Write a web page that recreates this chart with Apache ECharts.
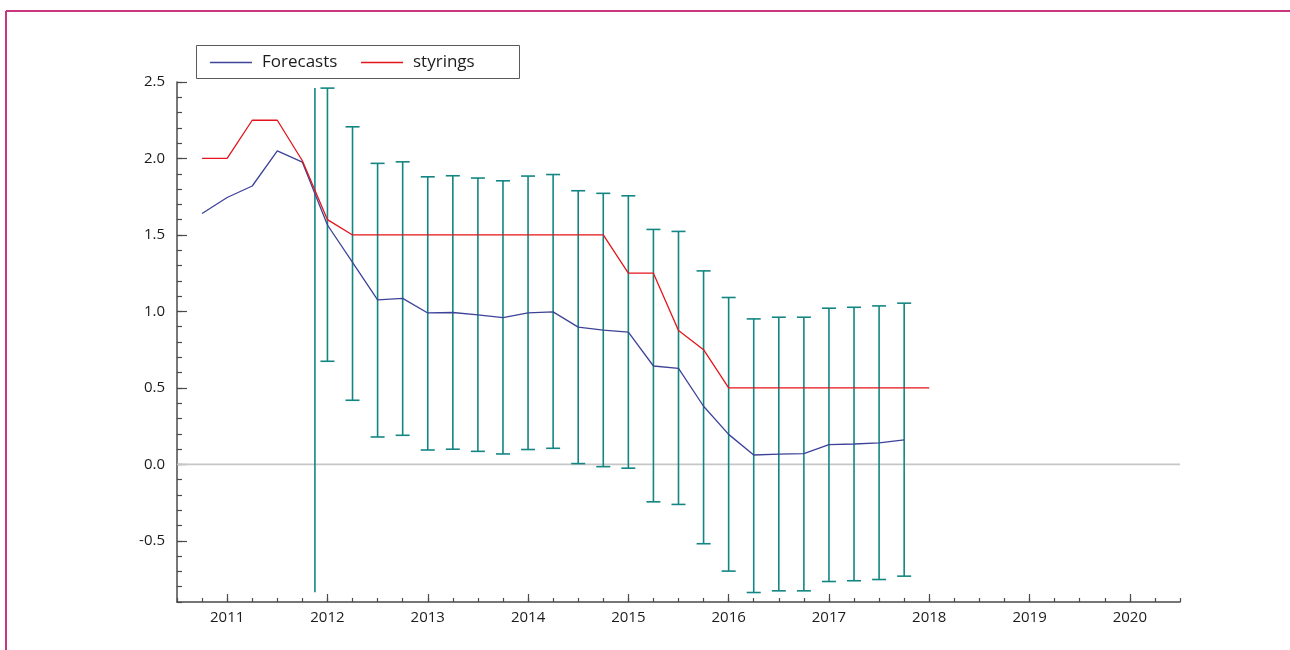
<!DOCTYPE html>
<html>
<head>
<meta charset="utf-8">
<script src="https://cdn.jsdelivr.net/npm/echarts@6/dist/echarts.min.js"></script>
<style>
  html, body { margin: 0; padding: 0; background: #ffffff; }
  #chart { width: 1290px; height: 650px; }
</style>
</head>
<body>
<div id="chart"></div>
<script>
// Quarterly forecast of the policy rate (x = year, decimal quarters)
const forecastYears = [2010.75, 2011.0, 2011.25, 2011.5, 2011.75, 2012.0, 2012.25, 2012.5, 2012.75,
  2013.0, 2013.25, 2013.5, 2013.75, 2014.0, 2014.25, 2014.5, 2014.75, 2015.0, 2015.25, 2015.5,
  2015.75, 2016.0, 2016.25, 2016.5, 2016.75, 2017.0, 2017.25, 2017.5, 2017.75];
const forecastValues = [1.64, 1.745, 1.82, 2.05, 1.976, 1.565, 1.32, 1.075, 1.085,
  0.99, 0.993, 0.977, 0.96, 0.99, 0.997, 0.897, 0.877, 0.864, 0.643, 0.628,
  0.38, 0.196, 0.061, 0.067, 0.07, 0.129, 0.133, 0.14, 0.16];

// Announced policy rate path ("styrings")
const rateYears = [2010.75, 2011.0, 2011.25, 2011.5, 2011.75, 2012.0, 2012.25, 2012.5, 2012.75,
  2013.0, 2013.25, 2013.5, 2013.75, 2014.0, 2014.25, 2014.5, 2014.75, 2015.0, 2015.25, 2015.5,
  2015.75, 2016.0, 2016.25, 2016.5, 2016.75, 2017.0, 2017.25, 2017.5, 2017.75, 2018.0];
const rateValues = [2.0, 2.0, 2.25, 2.25, 1.985, 1.6, 1.5, 1.5, 1.5,
  1.5, 1.5, 1.5, 1.5, 1.5, 1.5, 1.5, 1.5, 1.25, 1.25, 0.875,
  0.75, 0.5, 0.5, 0.5, 0.5, 0.5, 0.5, 0.5, 0.5, 0.5];

// Uncertainty bands around the forecast (lower / upper bound per quarter)
const bandYears = [2012.0, 2012.25, 2012.5, 2012.75, 2013.0, 2013.25, 2013.5, 2013.75,
  2014.0, 2014.25, 2014.5, 2014.75, 2015.0, 2015.25, 2015.5, 2015.75,
  2016.0, 2016.25, 2016.5, 2016.75, 2017.0, 2017.25, 2017.5, 2017.75];
const bandLow = [0.674, 0.419, 0.179, 0.19, 0.094, 0.099, 0.085, 0.068,
  0.097, 0.105, 0.005, -0.015, -0.025, -0.245, -0.262, -0.519,
  -0.698, -0.838, -0.827, -0.827, -0.766, -0.761, -0.753, -0.731];
const bandHigh = [2.46, 2.207, 1.968, 1.978, 1.88, 1.887, 1.872, 1.854,
  1.885, 1.895, 1.789, 1.772, 1.756, 1.536, 1.523, 1.265,
  1.091, 0.951, 0.962, 0.962, 1.021, 1.027, 1.036, 1.054];

// A single band drawn without caps: [year, low, high]
const openBand = [2011.875, -0.836, 2.46];

// Axis labels
const yearTicks = [2011, 2012, 2013, 2014, 2015, 2016, 2017, 2018, 2019, 2020];
const valueTicks = [-0.5, 0.0, 0.5, 1.0, 1.5, 2.0, 2.5];

const FONT = '"Open Sans", "DejaVu Sans", sans-serif';
const AXIS_COLOR = '#4a4a4a';
const TEXT_COLOR = '#1c1c1c';
const TEAL = '#138683';
const BLUE = '#3c4398';
const RED = '#e3151b';
const LINE_ICON = 'path://M0,0 L42,0 L42,1.3 L0,1.3 Z';

const forecastData = forecastYears.map((y, i) => [y, forecastValues[i]]);
const rateData = rateYears.map((y, i) => [y, rateValues[i]]);
const bandData = bandYears.map((y, i) => [y, bandLow[i], bandHigh[i], 1]);
bandData.unshift([openBand[0], openBand[1], openBand[2], 0]);

function renderBand(params, api) {
  const x = api.value(0);
  const lo = api.coord([x, api.value(1)]);
  const hi = api.coord([x, api.value(2)]);
  const style = { stroke: TEAL, lineWidth: 1.6 };
  const children = [{
    type: 'line',
    shape: { x1: lo[0], y1: lo[1], x2: hi[0], y2: hi[1] },
    style: style
  }];
  if (api.value(3)) {
    const w = 7;
    children.push({ type: 'line', shape: { x1: hi[0] - w, y1: hi[1], x2: hi[0] + w, y2: hi[1] }, style: style });
    children.push({ type: 'line', shape: { x1: lo[0] - w, y1: lo[1], x2: lo[0] + w, y2: lo[1] }, style: style });
  }
  return { type: 'group', children: children };
}

const chart = echarts.init(document.getElementById('chart'), null, { renderer: 'canvas' });

const baseX = {
  type: 'value', min: 2010.5, max: 2020.5, interval: 0.25, position: 'bottom',
  splitLine: { show: false }
};
const baseY = {
  type: 'value', min: -0.9, max: 2.5, interval: 0.1, position: 'left',
  splitLine: { show: false }
};

function legendFor(name, color, left) {
  return {
    left: left, top: 49,
    data: [{ name: name, icon: LINE_ICON, itemStyle: { color: color, borderWidth: 0 } }],
    itemWidth: 42, itemHeight: 1.4, itemGap: 0,
    textStyle: { fontFamily: FONT, fontSize: 17, color: TEXT_COLOR, padding: [0, 0, 0, 5] },
    selectedMode: false
  };
}

const option = {
  backgroundColor: '#ffffff',
  animation: false,
  grid: { left: 177, right: 110, top: 82, bottom: 48, containLabel: false },
  legend: [legendFor('Forecasts', BLUE, 205), legendFor('styrings', RED, 356)],
  xAxis: [
    Object.assign({}, baseX, {
      axisLine: { show: true, onZero: false, lineStyle: { color: AXIS_COLOR, width: 1.5 } },
      axisTick: { show: true, inside: true, length: 4, lineStyle: { color: AXIS_COLOR, width: 1.2 } },
      axisLabel: {
        show: true, customValues: yearTicks, margin: 8,
        fontFamily: FONT, fontSize: 15, color: TEXT_COLOR,
        formatter: v => String(Math.round(v))
      }
    }),
    Object.assign({}, baseX, {
      axisLine: { show: false, onZero: false },
      axisTick: { show: true, inside: true, length: 8, customValues: yearTicks, lineStyle: { color: AXIS_COLOR, width: 1.2 } },
      axisLabel: { show: false }
    })
  ],
  yAxis: [
    Object.assign({}, baseY, {
      axisLine: { show: true, onZero: false, lineStyle: { color: AXIS_COLOR, width: 1.5 } },
      axisTick: { show: true, inside: true, length: 5, lineStyle: { color: AXIS_COLOR, width: 1.2 } },
      axisLabel: {
        show: true, customValues: valueTicks, margin: 12,
        fontFamily: FONT, fontSize: 15, color: TEXT_COLOR,
        formatter: v => (Math.abs(v) < 1e-9 ? 0 : v).toFixed(1)
      }
    }),
    Object.assign({}, baseY, {
      axisLine: { show: false, onZero: false },
      axisTick: { show: true, inside: true, length: 10, customValues: valueTicks, lineStyle: { color: AXIS_COLOR, width: 1.2 } },
      axisLabel: { show: false }
    })
  ],
  graphic: [
    // page frame
    { type: 'line', shape: { x1: 6, y1: 11, x2: 1290, y2: 11 }, style: { stroke: '#c93680', lineWidth: 2 }, silent: true },
    { type: 'line', shape: { x1: 6, y1: 11, x2: 6, y2: 650 }, style: { stroke: '#c93680', lineWidth: 2 }, silent: true },
    // legend box
    { type: 'rect', shape: { x: 196.5, y: 45.5, width: 323, height: 33 }, style: { fill: 'rgba(0,0,0,0)', stroke: '#5a5a5a', lineWidth: 1 }, z: 10, silent: true }
  ],
  series: [
    {
      name: 'zero', type: 'line', silent: true, symbol: 'none', z: 1,
      data: [[2010.5, 0], [2020.5, 0]],
      lineStyle: { color: '#c6c6c6', width: 1.6 }
    },
    {
      name: 'bands', type: 'custom', renderItem: renderBand, z: 2, silent: true,
      encode: { x: 0, y: [1, 2] },
      data: bandData
    },
    {
      name: 'Forecasts', type: 'line', symbol: 'none', z: 3,
      data: forecastData,
      color: BLUE,
      itemStyle: { color: BLUE },
      lineStyle: { color: BLUE, width: 1.3 }
    },
    {
      name: 'styrings', type: 'line', symbol: 'none', z: 3,
      data: rateData,
      color: RED,
      itemStyle: { color: RED },
      lineStyle: { color: RED, width: 1.3 }
    }
  ]
};

chart.setOption(option);
</script>
</body>
</html>
